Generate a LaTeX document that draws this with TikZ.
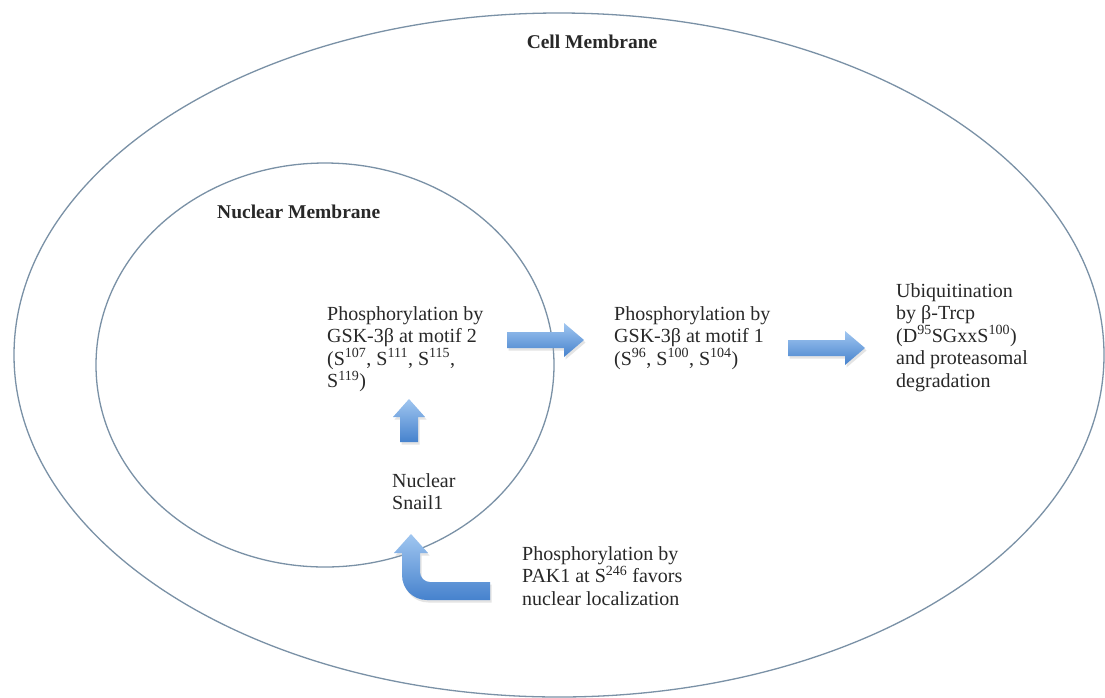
\documentclass[tikz,border=0pt]{standalone}
\usepackage{fontspec}
\setmainfont{Liberation Serif}
\usetikzlibrary{shapes.geometric}
\definecolor{memb}{RGB}{122,145,166}
\definecolor{arrtop}{RGB}{160,198,240}
\definecolor{arrbot}{RGB}{70,130,205}
\definecolor{txt}{RGB}{40,40,40}
\tikzset{
  membrane/.style={draw=memb, line width=1.3pt, ellipse, inner sep=0pt},
  label/.style={font=\fontsize{20}{22.5}\selectfont, text=txt, inner sep=0pt, align=left, anchor=north west},
  title/.style={font=\bfseries\fontsize{19.5}{21}\selectfont, text=txt, inner sep=0pt},
  arrshade/.style={top color=arrtop, bottom color=arrbot, draw=none},
  arrshadow/.style={fill=black!30, opacity=0.35},
  pics/rarrow/.style={code={
    \fill[arrshadow, shift={(1.5,2.5)}] (0,-8) -- (57,-8) -- (57,-17) -- (77,0) -- (57,17) -- (57,8) -- (0,8) -- cycle;
    \shade[arrshade] (0,-8) -- (57,-8) -- (57,-17) -- (77,0) -- (57,17) -- (57,8) -- (0,8) -- cycle;
  }},
  pics/uarrow/.style={code={
    \fill[arrshadow, shift={(1.5,2.5)}] (-9,0) -- (-9,-25) -- (-16,-25) -- (0,-43) -- (16,-25) -- (9,-25) -- (9,0) -- cycle;
    \shade[arrshade] (-9,0) -- (-9,-25) -- (-16,-25) -- (0,-43) -- (16,-25) -- (9,-25) -- (9,0) -- cycle;
  }},
  pics/larrow/.style={code={
    \fill[arrshadow, shift={(1.5,2.5)}] (0,-9) -- (-60,-9) .. controls (-65.5,-9) and (-70,-13.5) .. (-70,-19)
      -- (-70,-38) -- (-62,-38) -- (-79,-57) -- (-96,-38) -- (-88,-38) -- (-88,-16)
      .. controls (-88,-2) and (-77,9) .. (-63,9) -- (0,9) -- cycle;
    \shade[arrshade] (0,-9) -- (-60,-9) .. controls (-65.5,-9) and (-70,-13.5) .. (-70,-19)
      -- (-70,-38) -- (-62,-38) -- (-79,-57) -- (-96,-38) -- (-88,-38) -- (-88,-16)
      .. controls (-88,-2) and (-77,9) .. (-63,9) -- (0,9) -- cycle;
  }}
}
\begin{document}
\begin{tikzpicture}[x=1pt, y=-1pt]
\useasboundingbox[fill=white] (0,0) rectangle (1105,697);

% membranes
\node[membrane, minimum width=1090pt, minimum height=684pt] (cell) at (559,355) {};
\node[membrane, minimum width=458pt, minimum height=404pt] (nucleus) at (325,365) {};

% titles
\node[title] (celltitle) at (592,42) {Cell Membrane};
\node[title, anchor=west] (nuctitle) at (217,212) {Nuclear Membrane};

% texts
\node[label] (motif2) at (327,306) {Phosphorylation by\\GSK-3β at motif 2\\(S\textsuperscript{107}, S\textsuperscript{111}, S\textsuperscript{115},\\S\textsuperscript{119})};
\node[label] (motif1) at (614,306) {Phosphorylation by\\GSK-3β at motif 1\\(S\textsuperscript{96}, S\textsuperscript{100}, S\textsuperscript{104})};
\node[label] (ubiq) at (896,283) {Ubiquitination\\by β-Trcp\\(D\textsuperscript{95}SGxxS\textsuperscript{100})\\and proteasomal\\degradation};
\node[label] (snail) at (392,473) {Nuclear\\Snail1};
\node[label] (pak) at (522,546) {Phosphorylation by\\PAK1 at S\textsuperscript{246} favors\\nuclear localization};

% arrow anchors
\coordinate (a1) at (507,340);
\coordinate (a2) at (788,348);
\coordinate (a3) at (409,442);
\coordinate (a4) at (490,591);

\pic at (a1) {rarrow};
\pic at (a2) {rarrow};
\pic at (a3) {uarrow};
\pic at (a4) {larrow};
\end{tikzpicture}
\end{document}
